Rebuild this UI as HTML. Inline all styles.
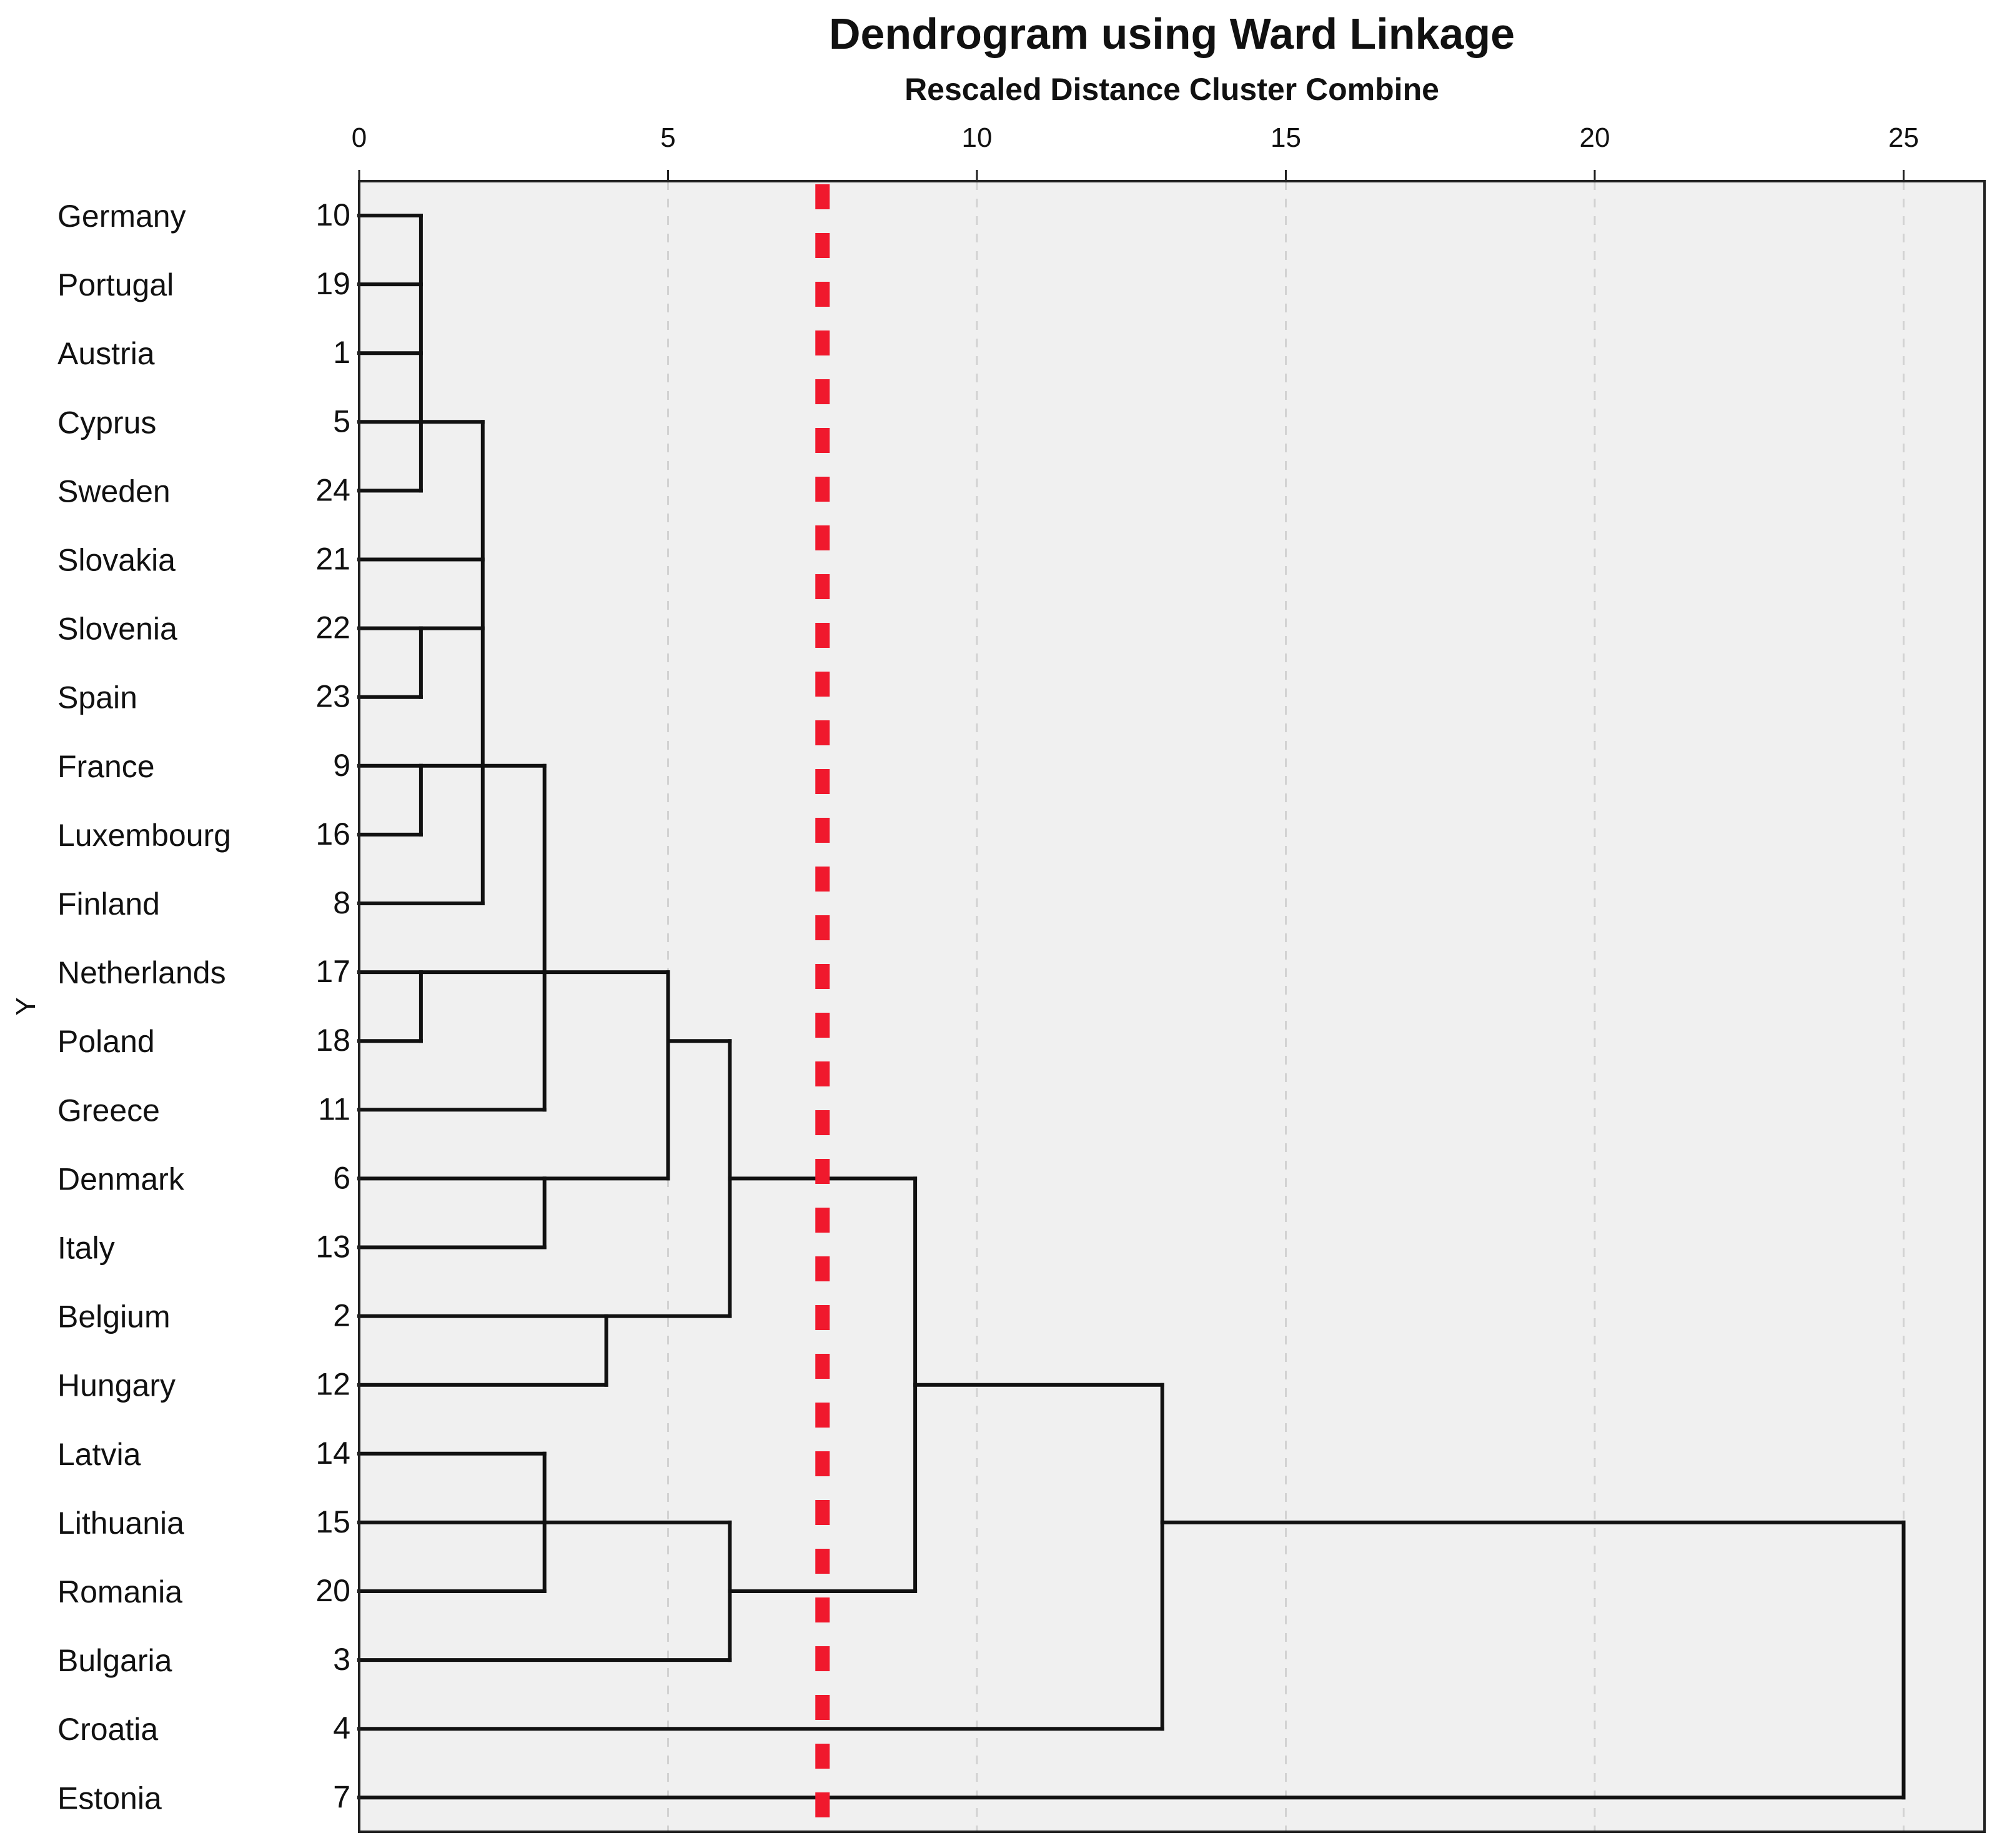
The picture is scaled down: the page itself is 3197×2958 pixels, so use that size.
<!DOCTYPE html>
<html><head><meta charset="utf-8"><style>
html,body{margin:0;padding:0;background:#fff;}
svg text{font-family:"Liberation Sans",Arial,sans-serif;fill:#111;}
</style></head><body>
<svg id="chart" width="3197" height="2953" viewBox="0 0 3197 2953" xmlns="http://www.w3.org/2000/svg">
<text x="1876" y="78" font-size="70" font-weight="bold" text-anchor="middle">Dendrogram using Ward Linkage</text>
<text x="1876" y="160" font-size="50" font-weight="bold" text-anchor="middle">Rescaled Distance Cluster Combine</text>
<text x="0" y="0" font-size="44" text-anchor="middle" transform="translate(56,1611) rotate(-90)">Y</text>
<rect x="575" y="290" width="2602" height="2642" fill="#f0f0f0"/>
<g id="grid"></g>
<g id="ticks"></g>
<g id="labels"></g>
<g id="tree"></g>
<g id="cut"></g>
<rect x="575" y="290" width="2602" height="2642" fill="none" stroke="#222" stroke-width="4"/>
</svg>
<script>
const countries=["Germany","Portugal","Austria","Cyprus","Sweden","Slovakia","Slovenia","Spain","France","Luxembourg","Finland","Netherlands","Poland","Greece","Denmark","Italy","Belgium","Hungary","Latvia","Lithuania","Romania","Bulgaria","Croatia","Estonia"];
const caseIds=[10,19,1,5,24,21,22,23,9,16,8,17,18,11,6,13,2,12,14,15,20,3,4,7];
const xTicks=[0,5,10,15,20,25];
const cutValue=7.5;
// merges: children (leaf index or "m"+merge index), merge distance, output row
const mergeChildren=[[0,1,2,3,4],[6,7],[8,9],[11,12],["m0",5,"m1","m2",10],["m4","m3",13],[14,15],["m5","m6"],[16,17],["m7","m8"],[18,19,20],["m10",21],["m9","m11"],["m12",22],["m13",23]];
const mergeDist=[1,1,1,1,2,3,3,5,4,6,3,6,9,13,25];
const mergeOutRow=[3,6,8,11,8,11,14,12,16,14,19,20,17,19,19];

const NS="http://www.w3.org/2000/svg";
const X0=575,UNIT=98.9,Y0=345,ROW=110.1,TOP=290,BOT=2932;
const xs=v=>X0+v*UNIT, ys=r=>Y0+r*ROW;
function mk(tag,parent,attrs){const e=document.createElementNS(NS,tag);for(const k in attrs)e.setAttribute(k,attrs[k]);document.getElementById(parent).appendChild(e);return e;}
xTicks.forEach(t=>{
  if(t>0){const g=mk('line','grid',{x1:xs(t),x2:xs(t),y1:TOP,y2:BOT,stroke:'#d2d2d2','stroke-width':3,'stroke-dasharray':'14 14'});
  
  }
  const tk=mk('line','ticks',{x1:xs(t),x2:xs(t),y1:TOP-18,y2:TOP,stroke:'#222','stroke-width':3});
  
  
  const tl=mk('text','ticks',{x:xs(t),y:235,'font-size':44,'text-anchor':'middle'});tl.textContent=t;
  
  
});
countries.forEach((c,i)=>{
  const t=mk('text','labels',{x:92,y:ys(i)+18,'font-size':50});t.textContent=c;
  
  
  const n=mk('text','labels',{x:561,y:ys(i)+16,'font-size':50,'text-anchor':'end'});n.textContent=caseIds[i];
  
  
});
const pos=k=>typeof k==='number'?{r:k,d:0}:{r:mergeOutRow[+k.slice(1)],d:mergeDist[+k.slice(1)]};
mergeChildren.forEach((ch,m)=>{
  const d=mergeDist[m];const rows=[];
  ch.forEach(k=>{const p=pos(k);rows.push(p.r);
    const h=mk('line','tree',{x1:xs(p.d),x2:xs(d),y1:ys(p.r),y2:ys(p.r),stroke:'#111','stroke-width':6,'stroke-linecap':'square'});
    
    
  });
  const v=mk('line','tree',{x1:xs(d),x2:xs(d),y1:ys(Math.min(...rows)),y2:ys(Math.max(...rows)),stroke:'#111','stroke-width':6,'stroke-linecap':'square'});
  
  
});
const cut=mk('line','cut',{x1:xs(cutValue),x2:xs(cutValue),y1:TOP+5,y2:BOT,stroke:'#f0192d','stroke-width':23,'stroke-dasharray':'40 38'});


</script>
</body></html>
